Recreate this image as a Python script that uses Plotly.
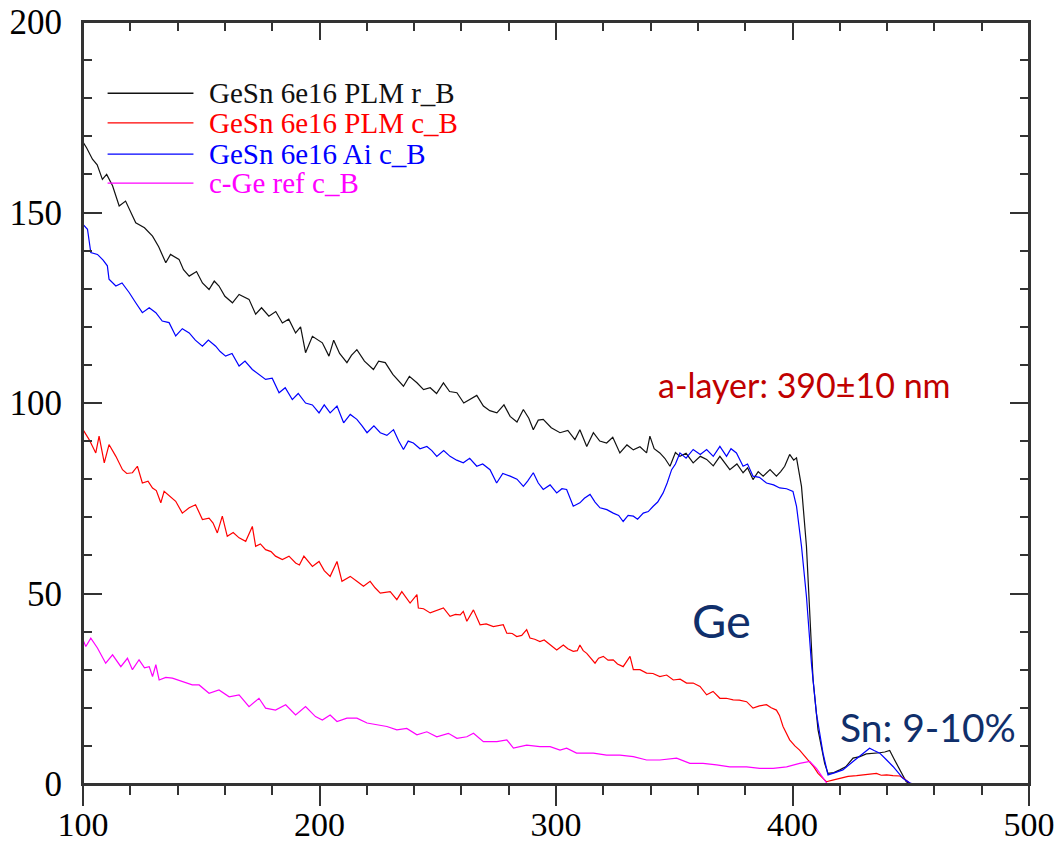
import plotly.graph_objects as go

# ---------------- data ----------------
series_names = ["GeSn 6e16 PLM r_B", "GeSn 6e16 PLM c_B", "GeSn 6e16 Ai c_B", "c-Ge ref c_B"]
series_colors = ["#111111", "#FF0000", "#0000FF", "#FF00FF"]

black_x = [100, 101.5, 104, 106, 108.2, 110, 112.5, 115.3, 118, 122.3, 126, 129.4, 132, 135, 137, 140.6,
           142.5, 144.9, 148, 150.5, 153.3, 155.5, 157.5, 160, 163.2, 166, 170.2, 173, 175.5, 178.6, 181.5,
           184.3, 187, 189.9, 192, 194.1, 197, 201.2, 204, 206, 208.5, 211.6, 213.5, 215.8, 219, 222.8, 225,
           227.8, 231, 235.5, 238, 241.2, 244, 246.8, 249.5, 252.4, 255, 258.1, 261, 263.7, 266.5, 269.3, 272,
           275, 278, 280.6, 283.5, 286.2, 288.5, 290.4, 292.5, 294.6, 298, 301.7, 305, 308, 310.1, 313, 315.8,
           318.5, 321.4, 324, 327, 330, 332.7, 335.5, 338.3, 339.7, 341.5, 343.9, 346, 348.2, 350.5, 352.4,
           355, 358, 361, 363.7, 366.5, 369.3, 371.5, 373.5, 376.5, 379.1, 381, 383.3, 385.5, 387.6, 390.5,
           393.2, 395, 396.7, 398.8, 400.5, 401.7, 403.8, 405.9, 407.3, 408.7, 410.8, 413.6, 415, 417.5, 420,
           422.5, 425.6, 428.5, 431.2, 434, 436.9, 439, 441.1, 443, 444.6, 446.5, 448.1, 450, 460, 470, 480,
           490, 500]
black_y = [168.5, 167, 164, 162.5, 158.7, 160, 157, 151.7, 153, 147.3, 146, 143.8, 141, 136.8, 139, 137.7,
           135, 133.3, 134.5, 131.5, 129.8, 132, 130.7, 128, 126.3, 128.5, 127.2, 123.3, 125, 122.8, 124,
           121, 122, 118.4, 120, 113.2, 117.5, 115.8, 112.3, 116.5, 113, 110.6, 112.5, 114, 111, 108.8, 111,
           110.6, 107.5, 104.4, 107, 105.3, 103.5, 104, 102.5, 105.3, 103, 102.7, 100, 100.9, 102, 99.2, 98,
           97.4, 99.5, 96.5, 95, 98.3, 96, 93, 95.5, 95.7, 93.5, 92.2, 92.8, 90.4, 93, 88.6, 92.2,
           90, 89.5, 91, 86.9, 89, 87.7, 88.5, 86.9, 91.3, 88, 86.9, 85.5, 83.4, 87, 86,
           86.8, 84.3, 86, 85.2, 83.5, 86, 84, 82.5, 84, 81.7, 83, 79.9, 82, 80.8, 82.5,
           80.8, 82, 83.4, 86.5, 85, 85.6, 78.1, 62.4, 44.9, 27.3, 14.2, 5.4, 2.8, 3, 3.7,
           4.5, 6.8, 7.2, 7.9, 8, 8.2, 8.4, 8.8, 6.5, 4.6, 2.5, 0.6, 0, 0, 0, 0,
           0, 0]

red_x = [100, 102.6, 105.4, 106.8, 109, 111, 113.9, 116.7, 118.5, 120.9, 123, 125.1, 127.5, 129.4, 131,
         132.9, 134.3, 137, 139.2, 142, 144.9, 147.6, 150.5, 153.3, 155, 156.8, 158.9, 161, 163.5, 166,
         168.8, 171.6, 173, 175, 177.2, 179.5, 181.4, 184.3, 187.1, 189.9, 191.5, 193.4, 197, 199.8, 202,
         204.5, 207.4, 209.5, 213, 215.8, 218.6, 221.4, 223.5, 225.7, 229.9, 232.7, 234.8, 238.3, 241.2,
         241.8, 244, 246.8, 249.5, 252.4, 255.2, 257.5, 259.5, 260.8, 262.3, 265.1, 267.9, 270.5, 273.5,
         275.5, 277.7, 279.2, 281.5, 283.4, 285.5, 287.6, 289, 291, 293.2, 295, 297.5, 300.3, 303.1, 305,
         307.3, 309, 310.1, 311.5, 313, 316.5, 318, 320, 322, 324.2, 326, 328.4, 331.3, 332.7, 335.5,
         338.3, 341, 343.9, 346.8, 349.6, 352.5, 355.2, 358, 360.9, 363.7, 366.4, 369.3, 372, 374.9,
         377.5, 380.6, 383.3, 386, 389, 391, 393.2, 394.5, 396, 398.8, 401, 403, 405, 407.3, 409, 410.8,
         413.6, 414.3, 417, 420, 423.5, 427.1, 431, 435.5, 437.5, 439.8, 442.5, 445.4, 447, 448.8, 450,
         460, 470, 480, 490, 500]
red_y = [93, 90.4, 86.9, 91.3, 84.3, 89.1, 86, 82.5, 81.5, 81.7, 83.4, 79, 79.5, 77.7, 77,
         73.8, 76.8, 75.5, 74.2, 71.1, 72.5, 73.3, 69.4, 69.8, 68.5, 65.9, 70.3, 65, 66, 64.6,
         63.7, 67.6, 62.4, 63, 61.5, 61, 59.8, 58.9, 59.8, 58, 57.5, 59.8, 57.1, 58.4, 56,
         54.5, 58.4, 53.2, 54.5, 53.2, 51.9, 53.2, 51.5, 50.1, 50.5, 48.4, 50.5, 47.5, 49.7,
         46.2, 46, 44.9, 45.5, 46.2, 44, 44.5, 44.4, 45.3, 42.7, 45.7, 41.8, 42, 41.3,
         41.5, 41.8, 39.6, 39.5, 38.7, 39, 40.5, 38.3, 38, 37.4, 37.8, 36.5, 35.2, 36.5, 35.5,
         34.8, 35, 36.5, 35, 34.3, 31.7, 33, 33.5, 32.5, 32.6, 31.5, 30.8, 33.5, 30, 30,
         29.1, 29, 28.2, 28.6, 27.3, 27.5, 26.5, 26.5, 25.6, 23.4, 24.3, 22.5, 22.5, 22.1,
         22, 21.6, 19.9, 20.5, 20.8, 20, 19.4, 18, 15.1, 11.6, 10, 8.9, 7.5, 5.9, 4.5, 2.8,
         1.1, 0.6, 1, 1.5, 2, 2.2, 2.5, 2.8, 2.3, 2.4, 2.2, 2.1, 1.5, 0.6, 0,
         0, 0, 0, 0, 0]

blue_x = [100, 101.9, 103.3, 106.1, 108.5, 110.3, 111, 113.9, 116.5, 119.5, 122.3, 125.1, 128, 130.8, 133.5,
          136.4, 139.2, 142, 144.9, 147.5, 150.5, 153, 156.1, 158, 160.3, 163, 166, 168.5, 171.6, 174.5,
          177.2, 180, 182.9, 185.5, 188.5, 191, 194.1, 197, 199.8, 202, 204.5, 207.4, 210.2, 213, 215.8,
          218, 220.1, 223, 225.7, 228.5, 231.3, 233.5, 235.5, 237.5, 239.7, 242.5, 245.4, 247.5, 249.6,
          252.5, 255.2, 258, 260.8, 263.5, 266.5, 269, 272.1, 274.9, 277.5, 280.6, 283.5, 286.2, 288,
          290.4, 292.5, 294.6, 297.5, 300.3, 302.5, 304.5, 307.3, 310.1, 312, 314.4, 316.5, 318.6, 321.5,
          324.2, 326.5, 328.4, 330.5, 332.7, 334.5, 336.9, 339, 341.1, 343, 345.3, 347, 348.9, 350.5,
          352.4, 355, 358, 361, 363.7, 366.5, 369.3, 372.1, 374, 376.3, 379.1, 381, 383.3, 386, 389, 392,
          394.6, 397.5, 400.2, 401.7, 403.8, 405.9, 408, 410.1, 412.9, 415, 418, 421.3, 425.6, 429.8,
          432.6, 434.5, 436.9, 439.5, 442.5, 446.7, 449.5, 451, 460, 470, 480, 490, 500]
blue_y = [146.9, 145.6, 139.5, 139, 137.5, 136, 132.5, 130.7, 131.5, 129, 126.3, 123.7, 125, 123.7, 121.5,
          121.1, 117.6, 119.5, 118.4, 116.5, 114.9, 116.5, 114.9, 113.5, 112.3, 113, 109.7, 111, 108.8, 107.5,
          106.2, 106.5, 102.7, 104, 100.9, 102.5, 100, 99.5, 97.4, 99.5, 97.4, 99.2, 94.8, 97, 95.7,
          94, 92.2, 94, 92.2, 91.5, 93, 90, 87.8, 90, 89.5, 88, 88.6, 87.5, 86,
          87.5, 86, 85, 84.3, 85.5, 83.4, 84, 82.5, 79, 81.5, 80.8, 80, 78.1, 79.5,
          81.7, 79, 77.3, 78.5, 76.4, 77.5, 77.3, 72.9, 73.8, 75, 76, 74, 72.5, 72,
          71.1, 70.5, 68.9, 70.5, 70.3, 69.5, 71.1, 71.5, 72.9, 74, 76.4, 79, 82.5, 84,
          86.9, 85.5, 87.8, 86.5, 87.8, 86, 88.6, 86, 88, 86.9, 83.4, 84, 80.8, 80.5, 79, 78.5,
          77.7, 77.5, 76.8, 72.9, 62.4, 49.2, 31.7, 18.6, 8.1, 2.4, 3, 3.7, 5.9, 8.1,
          9.4, 8.8, 8.1, 6.5, 4.6, 1.5, 0.3, 0, 0, 0, 0, 0, 0]

magenta_x = [100, 101.2, 103.3, 106.1, 109.6, 112.5, 116, 118.8, 120.9, 123.7, 126, 128, 129.4, 130.8, 132.2,
             135, 137.8, 142, 146.2, 149.1, 151, 153.3, 157.5, 161.8, 166, 170.2, 174.4, 177.2, 181.4, 185.7,
             189.9, 194.1, 198.3, 201.2, 204.5, 207.4, 211.6, 215.8, 220.1, 224.3, 228.5, 232.7, 236.9,
             241.2, 245.4, 249.6, 254.5, 258.1, 262.3, 265.1, 269.3, 275, 279.2, 282, 287.6, 293.2, 297.5,
             301.7, 304.5, 308.7, 315.8, 321.4, 327, 332.7, 338.3, 343.9, 351, 356.6, 362.2, 367.9, 373.5,
             380.6, 386.2, 391.8, 397.5, 403, 407.3, 410.1, 412.9, 414.5, 420, 440, 460, 480, 500]
magenta_y = [37.8, 36.1, 38.3, 35.7, 31.7, 33.9, 30.8, 33, 30, 32.6, 30.5, 30.8, 28.2, 31.3, 27.3,
             28, 27.8, 26.9, 26, 26, 25, 23.8, 24.7, 22.9, 23.4, 20.3, 22.5, 19.9, 19.4, 20.8,
             18.1, 20.3, 17.7, 16.8, 18.1, 16.4, 17.3, 17.3, 16, 15.5, 15.1, 14.2, 14.6,
             12.9, 13.7, 12.4, 13.3, 12, 12.4, 13.3, 11.1, 11.1, 11.6, 9.4, 10.2, 9.8, 9.8,
             8.9, 9.4, 8.1, 8.1, 7.6, 7.6, 7.2, 6.3, 6.3, 6.8, 5.4, 5.4, 5, 4.5,
             4.5, 4.1, 4.1, 4.5, 5.4, 5.9, 4.1, 1.5, 0.2, 0, 0, 0, 0, 0]

x_ticks = [100, 200, 300, 400, 500]
y_ticks = [0, 50, 100, 150, 200]

annotation_texts = ["a-layer: 390±10 nm", "Ge", "Sn: 9-10%"]

# ---------------- figure ----------------
fig = go.Figure()
xs = [black_x, red_x, blue_x, magenta_x]
ys = [black_y, red_y, blue_y, magenta_y]
for name, col, xx, yy in zip(series_names, series_colors, xs, ys):
    fig.add_trace(go.Scatter(x=xx, y=yy, mode="lines", name=name,
                             line=dict(color=col, width=1.2), showlegend=False))

# dummy trace to anchor the top axis
fig.add_trace(go.Scatter(x=[None], y=[None], xaxis="x2", yaxis="y", showlegend=False, hoverinfo="skip"))

axis_col = "#333333"
serif = "Liberation Serif"

fig.update_layout(
    width=1058, height=843,
    margin=dict(l=83, r=29, t=22, b=59),
    paper_bgcolor="white", plot_bgcolor="white",
    showlegend=False,
    xaxis=dict(range=[100, 500], tickvals=x_ticks, ticks="outside", ticklen=20, tickwidth=1.5,
               tickcolor=axis_col, automargin=False, ticklabeloverflow="allow",
               ticklabelstandoff=-11,
               minor=dict(dtick=20, ticks="outside", ticklen=9, tickwidth=1.5, tickcolor=axis_col),
               showline=True, linecolor=axis_col, linewidth=2, mirror=True,
               showgrid=False, zeroline=False,
               tickfont=dict(family=serif, size=34, color="black")),
    xaxis2=dict(range=[100, 500], overlaying="x", side="top", anchor="y", tickvals=x_ticks,
                ticks="inside", ticklen=18, tickwidth=1.5, tickcolor=axis_col, automargin=False,
                minor=dict(dtick=20, ticks="inside", ticklen=9, tickwidth=1.5, tickcolor=axis_col),
                showticklabels=False, showline=True, linecolor=axis_col, linewidth=2,
                showgrid=False, zeroline=False),
    yaxis=dict(range=[0, 200], tickvals=y_ticks, ticks="inside", ticklen=19, tickwidth=1.5,
               tickcolor=axis_col, automargin=False, ticklabeloverflow="allow",
               minor=dict(dtick=10, ticks="inside", ticklen=9, tickwidth=1.5, tickcolor=axis_col),
               showline=True, linecolor=axis_col, linewidth=2, mirror="ticks",
               showgrid=False, zeroline=False, ticklabelstandoff=12,
               tickfont=dict(family=serif, size=35, color="black")),
)

# plot frame (guarantees the top border)
fig.add_shape(type="rect", xref="paper", yref="paper", x0=0, x1=1, y0=0, y1=1,
              line=dict(color=axis_col, width=2), fillcolor="rgba(0,0,0,0)", layer="above")

# custom legend (long line samples, coloured text)
leg_y = [181.3, 173.5, 165.3, 157.7]
for name, col, yy in zip(series_names, series_colors, leg_y):
    fig.add_shape(type="line", xref="x", yref="y", x0=110.4, x1=146.7, y0=yy, y1=yy,
                  line=dict(color=col, width=1.3))
    fig.add_annotation(x=152.5, y=yy, xref="x", yref="y", text=name, showarrow=False,
                       xanchor="left", yanchor="middle",
                       font=dict(family=serif, size=29, color=col))

sans = "Lato"
fig.add_annotation(x=405.2, y=104.9, xref="x", yref="y", text=annotation_texts[0], showarrow=False,
                   font=dict(family=sans, size=34, color="#C00000"))
fig.add_annotation(x=370.1, y=43.1, xref="x", yref="y", text=annotation_texts[1], showarrow=False,
                   font=dict(family=sans, size=47, color="#102F6B"))
fig.add_annotation(x=457.5, y=15.0, xref="x", yref="y", text=annotation_texts[2], showarrow=False,
                   font=dict(family=sans, size=39, color="#102F6B"))

# remove the default page margin so the figure sits at the window's top-left corner
fig.write_html("out.html", config={"displayModeBar": False},
               post_script="document.body.style.margin='0';document.body.style.overflow='hidden';")
